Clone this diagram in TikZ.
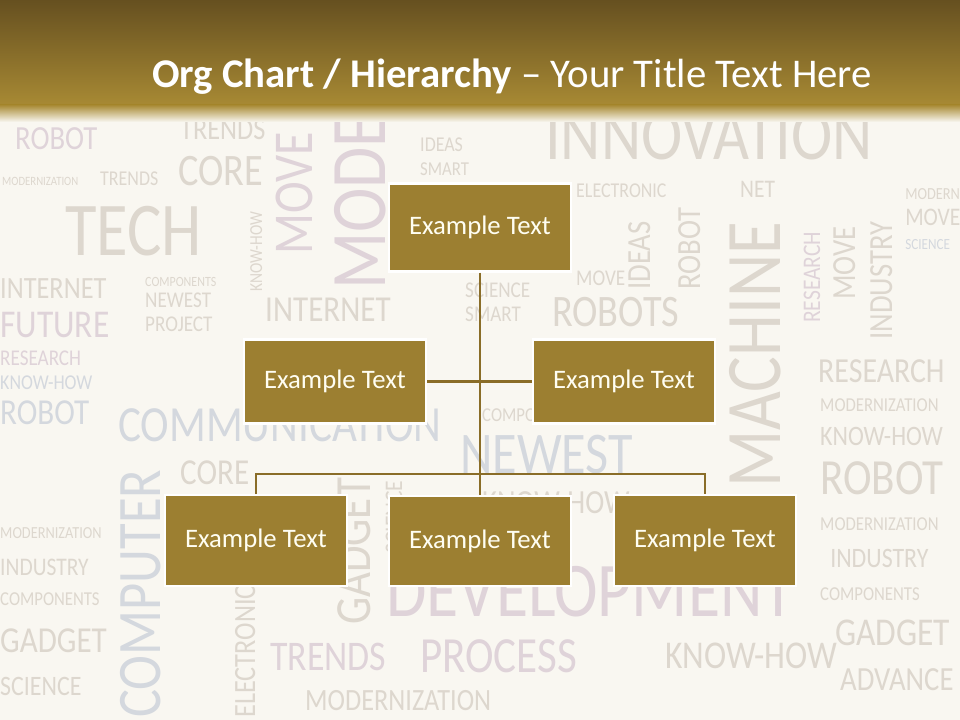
\documentclass[tikz,border=0pt]{standalone}
\usepackage{xcolor}
\usepackage{fontspec}
\setmainfont{Carlito}
\newfontfamily\cloudfont{Carlito}
\usepackage{tikz}
\usetikzlibrary{positioning}

\definecolor{slidebg}{HTML}{F9F7F1}
\definecolor{headtop}{HTML}{665020}
\definecolor{headbot}{HTML}{A88A34}
\definecolor{boxgold}{HTML}{9C7F31}
\definecolor{linegold}{HTML}{8A6D28}
\definecolor{wA}{HTML}{DDD7CE}
\definecolor{wB}{HTML}{DFD3D9}
\definecolor{wC}{HTML}{D4D8DE}

\begin{document}
\begin{tikzpicture}[x=0.025cm,y=-0.025cm,
    bgword/.style={anchor=base west,inner sep=0pt,xscale=0.85,font=\cloudfont},
    block/.style={rectangle,draw=white,line width=1.5pt,fill=boxgold,
                  minimum width=4.55cm,minimum height=2.2cm,
                  text=white!95!yellow,font=\fontsize{19}{22}\selectfont},
    link/.style={linegold,line width=2pt}]
\useasboundingbox (0,0) rectangle (960,720);
\fill[slidebg] (0,0) rectangle (960,720);

% word cloud behind the chart
\foreach \x/\y/\fs/\cl/\word [count=\i] in {
  15/150/24/wB/ROBOT, 180/140/22/wA/TRENDS, 420/152/15/wA/IDEAS,
  420/176/14/wA/SMART, 545/160/52/wA/INNOVATION, 2/186/9/wA/MODERNIZATION,
  100/186/15/wA/TRENDS, 178/186/32/wA/CORE, 576/198/15/wA/ELECTRONIC,
  740/198/18/wA/NET, 905/200/12/wA/MODERN, 65/256/54/wA/TECH,
  905/226/18/wA/MOVE, 905/250/11/wC/SCIENCE, 0/299/22/wA/INTERNET,
  145/287/10/wA/COMPONENTS, 145/308/16/wA/NEWEST, 145/332/16/wA/PROJECT,
  265/322/26/wA/INTERNET, 465/298/16/wA/SCIENCE, 465/322/16/wA/SMART,
  576/286/16/wA/MOVE, 552/327/32/wA/ROBOTS, 0/338/28/wB/FUTURE,
  0/366/16/wB/RESEARCH, 818/383/25/wA/RESEARCH, 820/412/14/wA/MODERNIZATION,
  820/446/20/wA/KNOW-HOW, 820/495/36/wA/ROBOT, 0/390/15/wC/KNOW-HOW,
  0/425/26/wC/ROBOT, 118/442/36/wC/COMMUNICATION, 482/422/14/wA/COMPONENTS,
  460/474/42/wC/NEWEST, 180/485/26/wA/CORE, 180/505/10/wA/ELECTRONIC,
  482/514/24/wA/KNOW-HOW, 0/538/12/wA/MODERNIZATION, 0/575/18/wA/INDUSTRY,
  0/605/14/wA/COMPONENTS, 0/652/26/wA/GADGET, 0/695/20/wA/SCIENCE,
  820/530/14/wA/MODERNIZATION, 830/567/20/wA/INDUSTRY, 820/600/14/wA/COMPONENTS,
  835/645/28/wA/GADGET, 840/690/24/wA/ADVANCE, 386/616/55/wB/DEVELOPMENT,
  270/670/30/wB/TRENDS, 420/672/36/wB/PROCESS, 665/668/28/wA/KNOW-HOW,
  305/710/22/wA/MODERNIZATION}
  \node[bgword,text=\cl,font=\fontsize{\fs}{\fs}\selectfont] (bgh\i) at (\x,\y) {\word};
\foreach \x/\y/\fs/\cl/\word [count=\i] in {
  312/255/40/wB/MOVE, 385/290/56/wB/MODE, 262/292/13/wA/KNOW-HOW,
  780/488/56/wA/MACHINE, 700/290/24/wA/ROBOT, 650/290/24/wA/IDEAS,
  820/323/18/wB/RESEARCH, 855/300/24/wA/MOVE, 892/340/24/wA/INDUSTRY,
  160/718/44/wC/COMPUTER, 370/625/36/wA/GADGET, 402/554/18/wA/SCIENCE,
  255/718/22/wA/ELECTRONIC}
  \node[rotate=90,bgword,text=\cl,font=\fontsize{\fs}{\fs}\selectfont] (bgv\i) at (\x,\y) {\word};

% title bar
\shade[top color=headtop,bottom color=headbot] (0,0) rectangle (960,106);
\shade[top color=headbot,bottom color=slidebg] (0,105) rectangle (960,122);
\node[anchor=base west,inner sep=0pt,text=white,font=\fontsize{29}{33}\selectfont]
  (title) at (152,88) {\textbf{Org Chart / Hierarchy} -- Your Title Text Here};

% chart
\node[block] (top) at (480,227.5) {Example Text};
\node[block,minimum height=2.1cm] (midl) at (335,381.5) {Example Text};
\node[block,minimum height=2.1cm] (midr) at (624,381.5) {Example Text};
\node[block,minimum height=2.27cm] (botl) at (256,540.5) {Example Text};
\node[block,minimum height=2.27cm] (botm) at (480,541) {Example Text};
\node[block,minimum height=2.27cm] (botr) at (705,540.5) {Example Text};
\coordinate (bar) at (480,474);
\draw[link] (top.south) -- (botm.north);
\draw[link] (midl.east) -- (midr.west);
\draw[link] (botl.north) |- (bar) -| (botr.north);
\end{tikzpicture}
\end{document}
